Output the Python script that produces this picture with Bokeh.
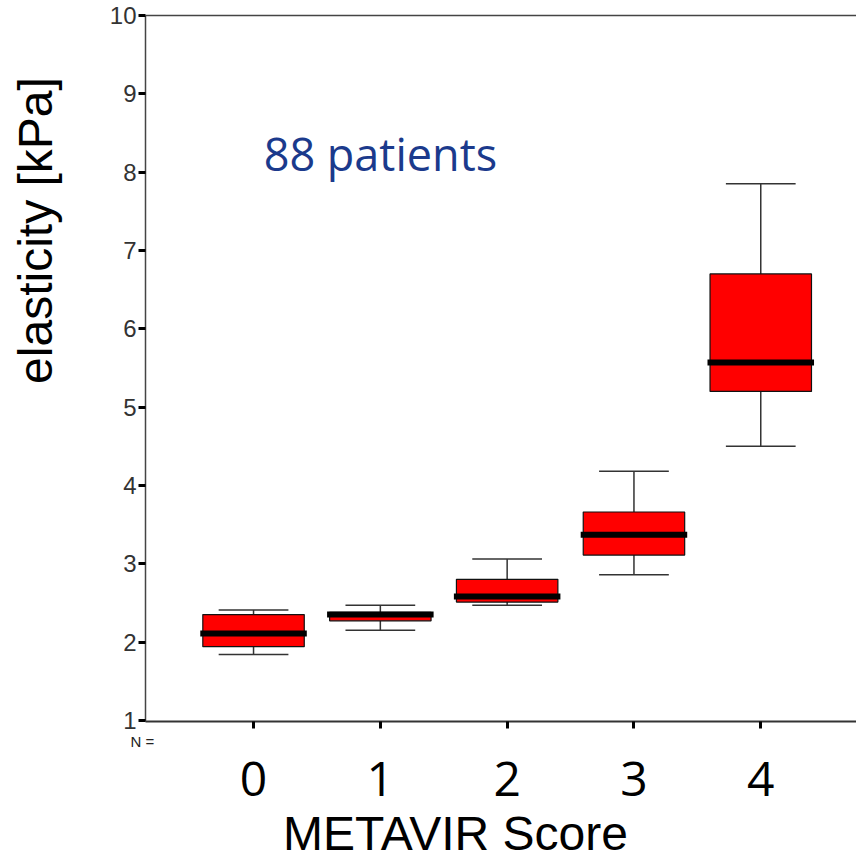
import math
from bokeh.plotting import figure
from bokeh.models import Range1d, LinearAxis, Label, FixedTicker, ColumnDataSource
from bokeh.embed import file_html
from bokeh.resources import INLINE

# ---- data ----
categories = ["0", "1", "2", "3", "4"]
whisker_low = [1.84, 2.15, 2.47, 2.86, 4.50]
q1 = [1.94, 2.27, 2.51, 3.11, 5.20]
median = [2.11, 2.35, 2.58, 3.37, 5.57]
q3 = [2.35, 2.38, 2.80, 3.66, 6.70]
whisker_high = [2.41, 2.47, 3.06, 4.18, 7.85]
y_ticks = [1, 2, 3, 4, 5, 6, 7, 8, 9, 10]

xs = list(range(len(categories)))
box_w = 0.8
cap_w = 0.55

src = ColumnDataSource(dict(
    x=xs, lo=whisker_low, q1=q1, med=median, q3=q3, hi=whisker_high,
    bl=[x - box_w / 2 for x in xs], br=[x + box_w / 2 for x in xs],
    ml=[x - box_w / 2 - 0.02 for x in xs], mr=[x + box_w / 2 + 0.02 for x in xs],
    cl=[x - cap_w / 2 for x in xs], cr=[x + cap_w / 2 for x in xs],
))

p = figure(frame_width=711, frame_height=706,
           x_range=Range1d(-0.852, 4.755), y_range=Range1d(0.985, 10.0),
           output_backend="svg", toolbar_location=None,
           min_border_left=145, min_border_top=15, min_border_right=0,
           min_border_bottom=138)
p.outline_line_color = None
p.grid.grid_line_color = None
p.background_fill_color = "white"
p.border_fill_color = "white"

# whiskers
p.segment(x0="x", y0="q3", x1="x", y1="hi", source=src, line_color="#333333", line_width=1.5)
p.segment(x0="x", y0="lo", x1="x", y1="q1", source=src, line_color="#333333", line_width=1.5)
p.segment(x0="cl", y0="hi", x1="cr", y1="hi", source=src, line_color="#333333", line_width=1.5)
p.segment(x0="cl", y0="lo", x1="cr", y1="lo", source=src, line_color="#333333", line_width=1.5)
# boxes
p.quad(left="bl", right="br", bottom="q1", top="q3", source=src,
       fill_color="#ff0000", line_color="#111111", line_width=1.2)
# medians
p.segment(x0="ml", y0="med", x1="mr", y1="med", source=src, line_color="black", line_width=6)

# y axis
ya = p.yaxis[0]
ya.ticker = FixedTicker(ticks=y_ticks)
ya.axis_line_color = "#444444"
ya.axis_line_width = 1.5
ya.major_tick_in = 0
ya.major_tick_out = 7
ya.major_tick_line_width = 3
ya.major_tick_line_color = "black"
ya.minor_tick_line_color = None
ya.major_label_text_font = "Liberation Sans"
ya.major_label_text_font_size = "24px"
ya.major_label_text_color = "#333333"
ya.major_label_standoff = 2

# x axis
xa = p.xaxis[0]
xa.ticker = FixedTicker(ticks=xs)
xa.major_label_overrides = {i: c for i, c in zip(xs, categories)}
xa.axis_line_color = "#333333"
xa.axis_line_width = 2
xa.major_tick_in = 0
xa.major_tick_out = 7
xa.major_tick_line_width = 3
xa.major_tick_line_color = "black"
xa.minor_tick_line_color = None
xa.major_label_text_font = "Open Sans"
xa.major_label_text_font_size = "48px"
xa.major_label_text_color = "black"
xa.major_label_standoff = 33

# top border line
top = LinearAxis(ticker=FixedTicker(ticks=[]), major_tick_line_color=None,
                 minor_tick_line_color=None, axis_line_color="#444444",
                 axis_line_width=1.5)
p.add_layout(top, "above")

# y axis title placed like the original (in the side panel, so it is not clipped)
p.add_layout(Label(x=35, y=230, x_units="canvas", y_units="canvas",
                   text="elasticity [kPa]", angle=math.pi / 2,
                   text_align="center", text_baseline="middle",
                   text_font="Liberation Sans", text_font_size="48px",
                   text_color="black"), "left")
# x axis title, placed like the original
p.add_layout(Label(x=455, y=833, x_units="canvas", y_units="canvas",
                   text="METAVIR Score", text_align="center",
                   text_baseline="middle", text_font="Liberation Sans",
                   text_font_size="48px", text_color="black"), "below")
# N = row
p.add_layout(Label(x=130, y=741, x_units="canvas", y_units="canvas",
                   text="N =", text_align="left",
                   text_baseline="middle", text_font="Liberation Sans",
                   text_font_size="15px", text_color="#222222"), "below")
# annotation
p.add_layout(Label(x=0.08, y=8.24, text="88 patients", text_align="left",
                   text_baseline="alphabetic", text_font="Open Sans",
                   text_font_size="45px", text_color="#1b3a8c"))

open("out.html", "w").write(file_html(p, INLINE))
